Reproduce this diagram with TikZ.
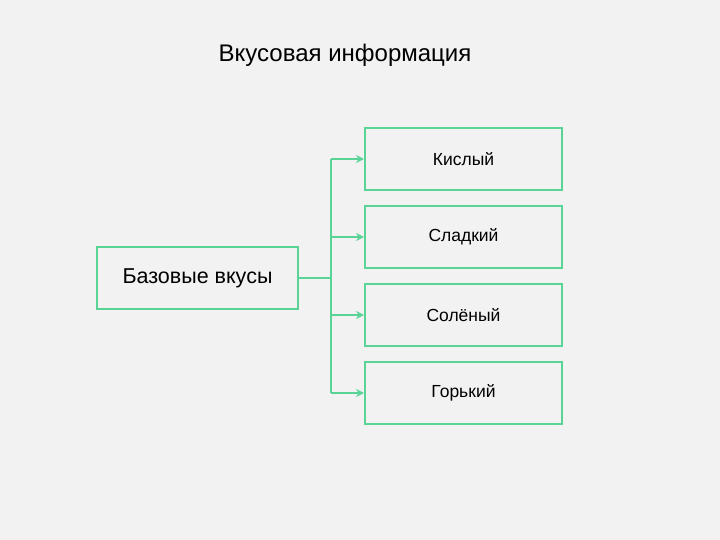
\documentclass[tikz,border=0pt]{standalone}
\usepackage{fontspec}
\setmainfont{Liberation Sans}
\usetikzlibrary{arrows.meta}
\definecolor{bg}{RGB}{242,242,242}
\definecolor{gr}{RGB}{90,212,150}
\begin{document}
\begin{tikzpicture}[x=1pt,y=-1pt,
  box/.style={draw=gr,line width=2pt,minimum width=197pt,minimum height=62pt,inner sep=0pt,font=\fontsize{17.5}{21}\selectfont},
  conn/.style={draw=gr,line width=2pt},
  arr/.style={conn,-{Stealth[length=8pt,width=8pt]}}]
\fill[bg] (0,0) rectangle (720,540);
\useasboundingbox (0,0) rectangle (720,540);
\node[font=\fontsize{24}{28}\selectfont] (title) at (345,55) {Вкусовая информация};
\node[box,minimum width=201pt,font=\fontsize{21.5}{25}\selectfont] (base) at (197.5,278) {Базовые вкусы};
\node[box] (k) at (463.5,159) {Кислый};
\node[box] (s) at (463.5,237) {Сладкий};
\node[box] (so) at (463.5,315) {Солёный};
\node[box] (g) at (463.5,393) {Горький};
\coordinate (j) at (331,278);
\coordinate (t) at (331,159);
\coordinate (b) at (331,393);
\draw[conn] (base.east) -- (j);
\draw[conn] (t) -- (b);
\draw[arr] (t) -- (k.west);
\draw[arr] (331,237) -- (s.west);
\draw[arr] (331,315) -- (so.west);
\draw[arr] (b) -- (g.west);
\end{tikzpicture}
\end{document}
